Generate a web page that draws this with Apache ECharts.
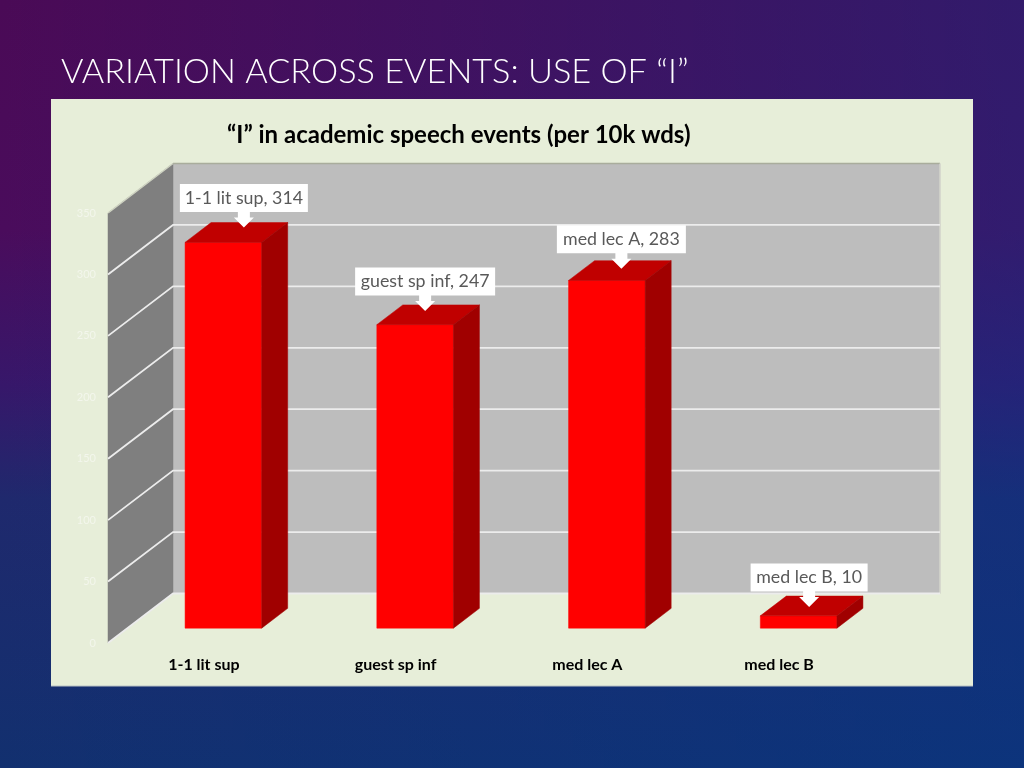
<!DOCTYPE html>
<html>
<head>
<meta charset="utf-8">
<style>html,body{margin:0;padding:0;background:#1d2a6c}#chart{width:1024px;height:768px}</style>
<script src="https://cdn.jsdelivr.net/npm/echarts@6/dist/echarts.min.js"></script>
</head>
<body>
<div id="chart"></div>
<script>
const categories = ['1-1 lit sup', 'guest sp inf', 'med lec A', 'med lec B'];
const values = [314, 247, 283, 10];
const yTicks = [0, 50, 100, 150, 200, 250, 300, 350];

// 3D projection of the chart box, in pixels
const DEPTH_X = 65, DEPTH_Y = 49.5;
const BAR_START = 0.3, BAR_DEPTH = 0.4, BAR_HALF = 38.3;
// callout placement: [shift of arrow tip from bar centre, tip below bar's back top edge]
const calloutShift = [[7.5, 5], [-3, 6], [1.5, 8], [-2.5, 11]];
const calloutWidth = [128, 140, 129, 117];
const CALLOUT_H = 28;

const chart = echarts.init(document.getElementById('chart'), null, {renderer: 'canvas'});

function poly(points, fill, z2) {
  return {type: 'polygon', z2: z2 || 0, shape: {points}, style: {fill, stroke: fill, lineWidth: 0.5}};
}

function plotEdges(api) {
  const band = api.size([1, 0])[0];
  return {left: api.coord([0, 0])[0] - band / 2, right: api.coord([categories.length - 1, 0])[0] + band / 2};
}

function renderWalls(params, api) {
  const e = plotEdges(api);
  const y0 = api.coord([0, 0])[1], yT = api.coord([0, yTicks[yTicks.length - 1]])[1];
  const bl = e.left + DEPTH_X, br = e.right + DEPTH_X;
  return {type: 'group', children: [
    poly([[bl, yT - DEPTH_Y], [br, yT - DEPTH_Y], [br, y0 - DEPTH_Y], [bl, y0 - DEPTH_Y]], '#bdbdbd'),
    poly([[e.left, yT], [bl, yT - DEPTH_Y], [bl, y0 - DEPTH_Y], [e.left, y0]], '#7f7f7f'),
    {type: 'line', shape: {x1: bl, y1: yT - DEPTH_Y, x2: br, y2: yT - DEPTH_Y}, style: {stroke: '#a9ad9c', lineWidth: 1.5}},
    {type: 'line', shape: {x1: br, y1: yT - DEPTH_Y, x2: br, y2: y0 - DEPTH_Y}, style: {stroke: '#d4d6cc', lineWidth: 1.5}},
    {type: 'line', shape: {x1: e.left, y1: yT, x2: bl, y2: yT - DEPTH_Y}, style: {stroke: '#cfd3c2', lineWidth: 1.5}}
  ]};
}

function renderGridLine(params, api) {
  const e = plotEdges(api);
  const y = api.coord([0, api.value(1)])[1];
  const bl = e.left + DEPTH_X, br = e.right + DEPTH_X, yb = y - DEPTH_Y;
  return {type: 'polyline', shape: {points: [[e.left, y], [bl, yb], [br, yb]]},
    style: {stroke: '#ececec', lineWidth: 1.8, fill: null}};
}

function renderBar(params, api) {
  const p = api.coord([api.value(0), api.value(1)]);
  const base = api.coord([api.value(0), 0]);
  const ox = DEPTH_X * BAR_START, oy = DEPTH_Y * BAR_START;
  const dx = DEPTH_X * BAR_DEPTH, dy = DEPTH_Y * BAR_DEPTH;
  const x1 = p[0] + ox - BAR_HALF, x2 = p[0] + ox + BAR_HALF;
  const yt = p[1] - oy, yb = base[1] - oy;
  return {type: 'group', children: [
    poly([[x1, yt], [x2, yt], [x2, yb], [x1, yb]], '#ff0000'),
    poly([[x1, yt], [x1 + dx, yt - dy], [x2 + dx, yt - dy], [x2, yt]], '#c00000'),
    poly([[x2, yt], [x2 + dx, yt - dy], [x2 + dx, yb - dy], [x2, yb]], '#a00000')
  ]};
}

function renderCallout(params, api) {
  const i = params.dataIndex;
  const p = api.coord([api.value(0), api.value(1)]);
  const ox = DEPTH_X * BAR_START, oy = DEPTH_Y * BAR_START;
  const dx = DEPTH_X * BAR_DEPTH, dy = DEPTH_Y * BAR_DEPTH;
  const tipX = p[0] + ox + dx / 2 + calloutShift[i][0];
  const tipY = p[1] - oy - dy + calloutShift[i][1];
  const boxB = tipY - 15.5, boxT = boxB - CALLOUT_H, w = calloutWidth[i];
  return {type: 'group', z2: 20, children: [
    {type: 'rect', shape: {x: tipX - w / 2, y: boxT, width: w, height: CALLOUT_H}, style: {fill: '#ffffff'}},
    {type: 'polygon', shape: {points: [[tipX - 6, boxB - 1], [tipX + 6, boxB - 1], [tipX + 6, tipY - 10], [tipX + 10, tipY - 10], [tipX, tipY], [tipX - 10, tipY - 10], [tipX - 6, tipY - 10]]}, style: {fill: '#ffffff'}},
    {type: 'text', style: {x: tipX, y: boxT + CALLOUT_H / 2, text: categories[i] + ', ' + values[i],
      fill: '#595959', font: '17.8px Lato, sans-serif', align: 'center', verticalAlign: 'middle'}}
  ]};
}

const pairs = values.map((v, i) => [i, v]);

chart.setOption({
  animation: false,
  backgroundColor: {type: 'linear', x: 0, y: 0, x2: 0, y2: 1, colorStops: [
    {offset: 0, color: '#4a0a56'}, {offset: 0.3, color: '#4a0c5c'}, {offset: 0.5, color: '#37176a'},
    {offset: 0.65, color: '#1f296d'}, {offset: 1, color: '#12306f'}]},
  title: [
    {text: 'VARIATION ACROSS EVENTS: USE OF “I”', left: 56, top: 50,
      textStyle: {color: '#ffffff', fontFamily: 'Lato', fontWeight: 300, fontSize: 34.3}},
    {text: '“I” in academic speech events (per 10k wds)', left: 222, top: 118,
      textStyle: {color: '#000000', fontFamily: 'Lato', fontWeight: 'bold', fontSize: 24}}
  ],
  graphic: [
    {type: 'rect', z: -20, shape: {x: 0, y: 0, width: 1024, height: 768},
      style: {fill: {type: 'linear', x: 0, y: 0, x2: 1, y2: 0, colorStops: [
        {offset: 0, color: 'rgba(0,60,150,0)'}, {offset: 1, color: 'rgba(0,60,150,0.33)'}]}}},
    {type: 'rect', z: -10, shape: {x: 51, y: 99, width: 922, height: 587}, style: {fill: '#e7eed9'}},
    {type: 'line', z: -9, shape: {x1: 51, y1: 686, x2: 973, y2: 686}, style: {stroke: '#b9c2c4', lineWidth: 1}}
  ],
  grid: {left: 108, right: 149, top: 213, bottom: 125},
  xAxis: {type: 'category', data: categories,
    axisLine: {show: false}, axisTick: {show: false}, splitLine: {show: false},
    axisLabel: {margin: 14, color: '#000000', fontFamily: 'Lato', fontWeight: 'bold', fontSize: 16}},
  yAxis: {type: 'value', min: 0, max: 350, interval: 50,
    axisLine: {show: false}, axisTick: {show: false}, splitLine: {show: false},
    axisLabel: {margin: 12, color: '#f3f6ec', fontFamily: 'Lato', fontSize: 11}},
  series: [
    {type: 'custom', name: 'walls', z: 1, renderItem: renderWalls, data: [[0, 0]], silent: true},
    {type: 'custom', name: 'gridlines', z: 2, renderItem: renderGridLine, data: yTicks.slice(0, -1).map(t => [0, t]), silent: true},
    {type: 'custom', name: 'bars', z: 3, renderItem: renderBar, data: pairs},
    {type: 'custom', name: 'callouts', z: 4, renderItem: renderCallout, data: pairs}
  ]
});
</script>
</body>
</html>
